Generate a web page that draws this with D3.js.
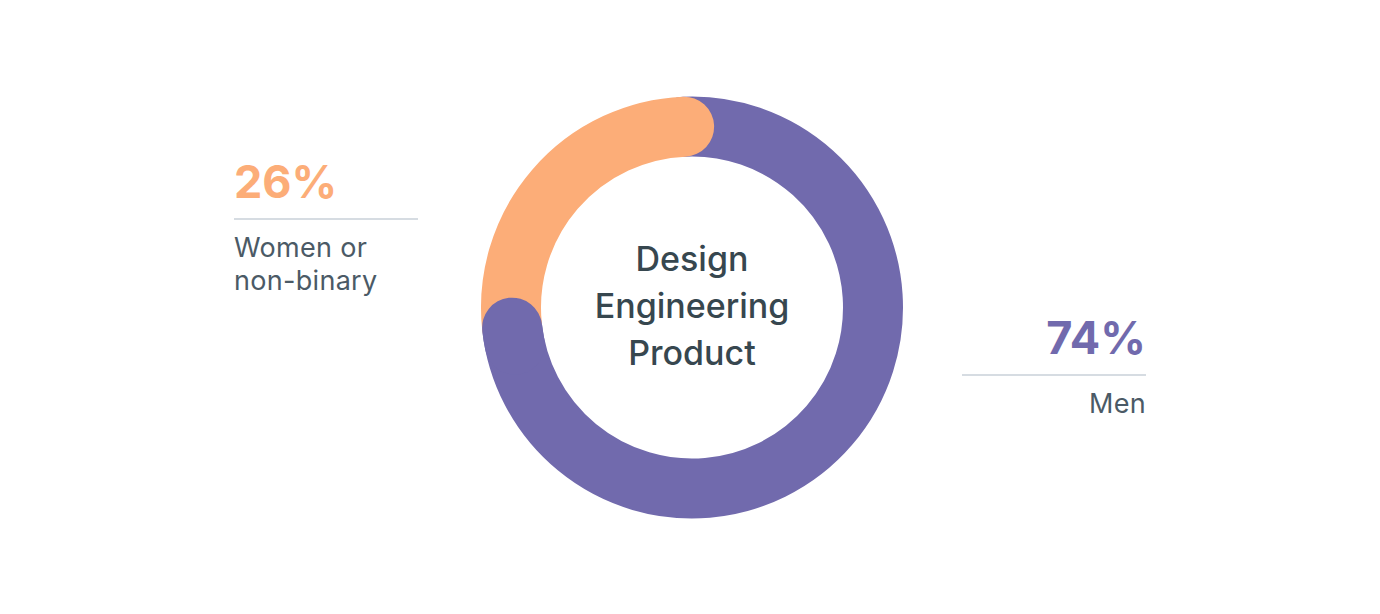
<!DOCTYPE html>
<html>
<head>
<meta charset="utf-8">
<script src="https://cdn.jsdelivr.net/npm/d3@7"></script>
<style>
  body { margin: 0; background: #fff; }
  text { font-family: Inter, "Noto Sans", sans-serif; }
</style>
</head>
<body>
<svg id="chart"></svg>
<script>
const width = 1380;
const height = 614;

// data
const groups = ["Women or non-binary", "Men"];
const shares = [26, 74];
const colors = ["#fcad78", "#716aad"];
const centerLines = ["Design", "Engineering", "Product"];

const svg = d3.select("#chart")
  .attr("width", width)
  .attr("height", height);

const cx = 692, cy = 307.5;
const midR = 181;
const ringWidth = 60;

// the ring is rotated a little so the round caps sit like the reference
const rot = -2.5 * Math.PI / 180;
const pie = d3.pie()
  .sort(null)
  .startAngle(-shares[0] / 100 * 2 * Math.PI + rot)
  .endAngle(2 * Math.PI - shares[0] / 100 * 2 * Math.PI + rot);
const slices = pie(shares);

const ring = svg.append("g").attr("transform", `translate(${cx}, ${cy})`);

function arcPath(a0, a1) {
  const p = d3.path();
  p.arc(0, 0, midR, a0 - Math.PI / 2, a1 - Math.PI / 2);
  return p.toString();
}

// men first, then women (its end cap on top), then men's end cap again
ring.append("path")
  .attr("d", arcPath(slices[1].startAngle, slices[1].endAngle))
  .attr("fill", "none")
  .attr("stroke", colors[1])
  .attr("stroke-width", ringWidth)
  .attr("stroke-linecap", "round");

ring.append("path")
  .attr("d", arcPath(slices[0].startAngle, slices[0].endAngle))
  .attr("fill", "none")
  .attr("stroke", colors[0])
  .attr("stroke-width", ringWidth)
  .attr("stroke-linecap", "round");

ring.append("path")
  .attr("d", arcPath(slices[1].endAngle - 0.1, slices[1].endAngle - 0.005))
  .attr("fill", "none")
  .attr("stroke", colors[1])
  .attr("stroke-width", ringWidth)
  .attr("stroke-linecap", "round");

// center label
ring.append("text")
  .attr("text-anchor", "middle")
  .attr("font-size", 34)
  .attr("font-weight", 500)
  .attr("fill", "#37474f")
  .selectAll("tspan")
  .data(centerLines)
  .join("tspan")
  .attr("x", 0)
  .attr("y", (d, i) => -37 + i * 47)
  .text(d => d);

// left label (women)
const left = svg.append("g").attr("transform", "translate(234, 0)");
left.append("text")
  .attr("x", 0).attr("y", 198)
  .attr("font-size", 45).attr("font-weight", 700)
  .attr("fill", colors[0])
  .text(shares[0] + "%");
left.append("line")
  .attr("x1", 0).attr("x2", 184)
  .attr("y1", 219).attr("y2", 219)
  .attr("stroke", "#d6dce2").attr("stroke-width", 2);
left.append("text")
  .attr("font-size", 27)
  .attr("letter-spacing", 0.3)
  .attr("fill", "#4b5a66")
  .selectAll("tspan")
  .data(["Women or", "non-binary"])
  .join("tspan")
  .attr("x", 0)
  .attr("y", (d, i) => 257 + i * 33)
  .text(d => d);

// right label (men)
const right = svg.append("g").attr("transform", "translate(1146, 0)");
right.append("text")
  .attr("x", 0).attr("y", 354)
  .attr("text-anchor", "end")
  .attr("font-size", 45).attr("font-weight", 700)
  .attr("fill", colors[1])
  .text(shares[1] + "%");
right.append("line")
  .attr("x1", -184).attr("x2", 0)
  .attr("y1", 375).attr("y2", 375)
  .attr("stroke", "#d6dce2").attr("stroke-width", 2);
right.append("text")
  .attr("x", 0).attr("y", 413)
  .attr("text-anchor", "end")
  .attr("font-size", 27)
  .attr("letter-spacing", 0.3)
  .attr("fill", "#4b5a66")
  .text(groups[1]);
</script>
</body>
</html>
